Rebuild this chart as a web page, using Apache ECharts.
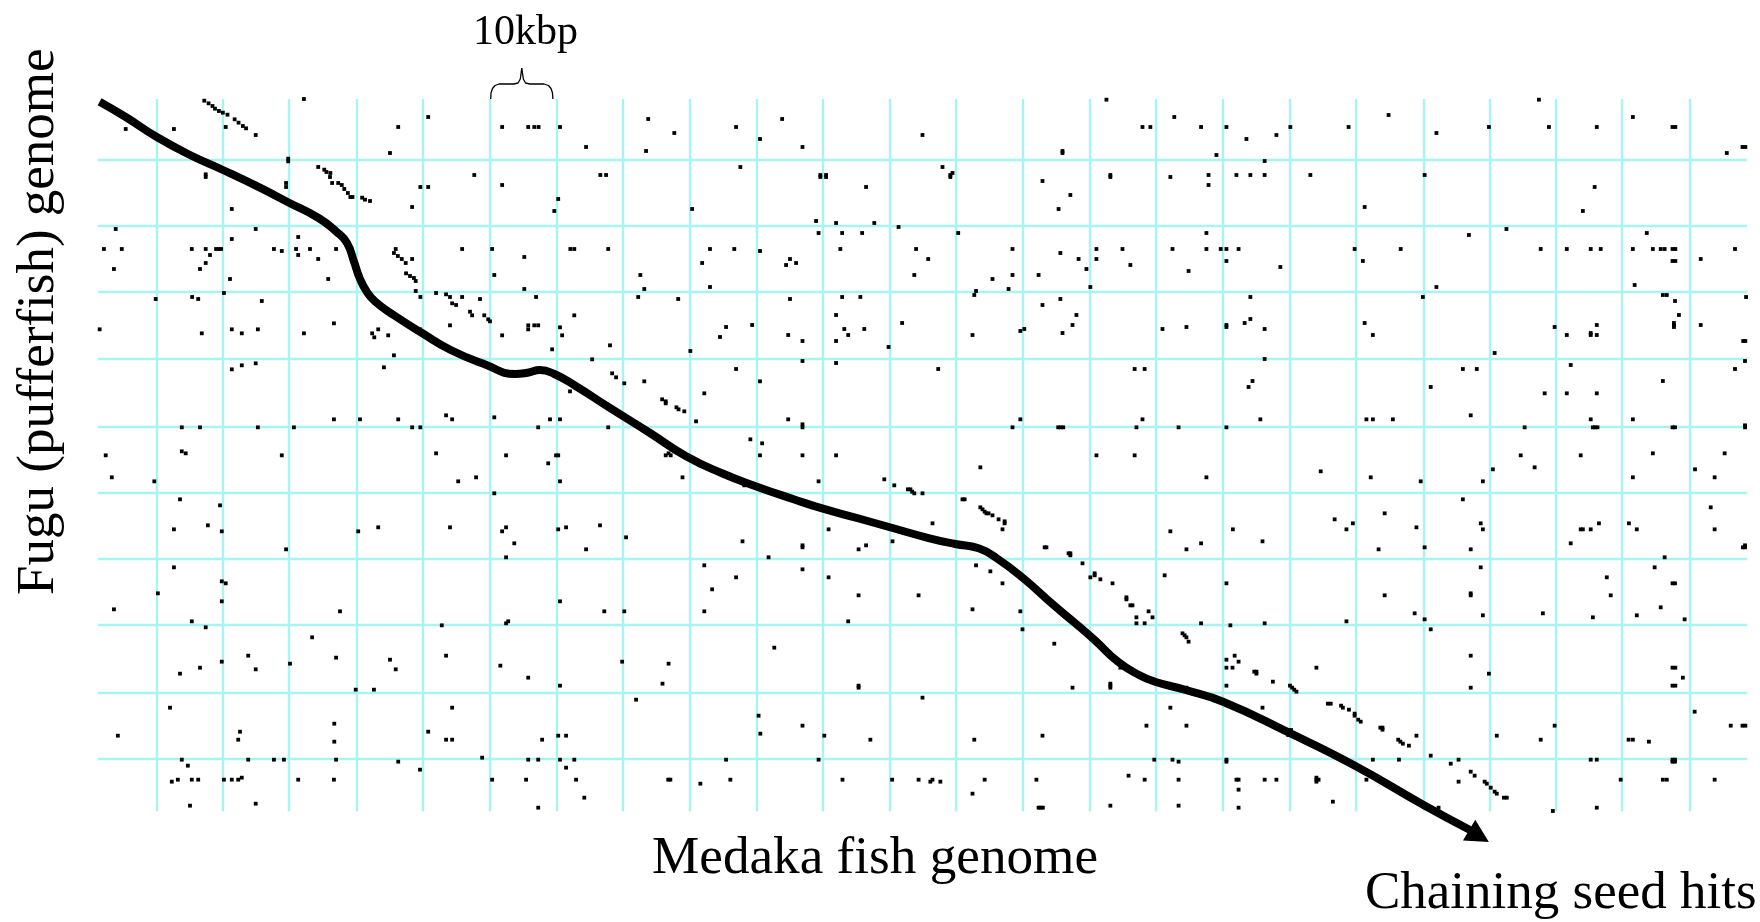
<!DOCTYPE html>
<html>
<head>
<meta charset="utf-8">
<style>html,body{margin:0;padding:0;background:#fff}#c{width:1760px;height:922px}</style>
<script src="https://cdn.jsdelivr.net/npm/echarts@6/dist/echarts.min.js"></script>
</head>
<body>
<div id="c"></div>
<script>
// Read-off scale: the chart is measured in picture units (66.6 units = 10 kbp).
const xGridLines = [156.8,222.9,288.9,356.8,422.9,489.3,556.8,623.2,689.3,757.1,823.2,889.3,955.4,1023.2,1089.3,1155.4,1223.2,1289.3,1355.4,1423.6,1489.6,1555.7,1621.8,1689.6];
const yGridLines = [160,226,292,358.5,426.5,492.5,558.5,624.5,692.5,758.5];
const plotX = [98,1747];
const plotY = [99,811.5];

// Seed hits, read region by region: each region has its own origin and read-off ratio.
const regionOrigins = [[90,0],[650,80],[1200,80],[90,300],[650,370],[1200,370],[90,570],[650,640],[1200,640]];
const readRatio = [2.8,3];
const hitsA = [[599,297],[100,387],[235,387],[380,381],[464,405],[840,459],[863,381],[947,351],[1154,381],[1227,381],[1244,381],[1256,381],[1316,381],[1389,441],[1563,357],[1557,453],
[320,302],[332,310],[343,318],[350,326],[361,333],[372,338],[385,344],[405,358],[416,368],[428,378],[437,385],
[555,476],[555,484],[324,523],[324,531],[549,549],[549,561],[397,627],[72,687],[464,687],[397,717],
[639,501],[656,509],[662,516],[673,519],[672,531],[678,549],[695,549],[705,555],[712,567],[722,579],[729,591],[735,591],[762,593],[770,599],[784,603],
[925,561],[947,561],[902,621],[1076,525],[1154,555],[1311,597],[1300,633],[1429,525],[1445,525],
[39,747],[89,747],[285,747],[324,747],[353,747],[360,747],[367,747],[515,747],[577,747],[616,747],[689,747],[1042,747],[1126,747],[1345,747],[1356,747],[1451,747],
[537,753],[336,765],[583,765],[639,777],[902,777],[324,789],[308,807],[67,807],[392,837],[667,837],[1216,771],[1132,825],[1541,825],[1552,867],[1216,867],[375,879],[969,879],[997,883],[1008,891],[286,891],[303,897],[184,897],[1042,891],[1092,897],[1249,891],[1535,891],[925,891],[912,873],
[856,747],[851,759],[862,768],[873,777],[884,789],[885,820],[896,828],[907,834],[912,843],[583,711]];
const hitsB = [[68,159],[241,141],[308,177],[370,117],[427,201],[763,165],[1155,213],[1155,219],[1278,59],[1379,141],[1401,141],[1468,111],
[253,261],[477,285],[477,291],[493,285],[493,291],[605,321],[819,261],[847,279],[841,285],[841,291],[1099,303],[1177,345],[1144,387],[1289,285],[1289,291],[1457,291],
[118,387],[465,423],[521,429],[628,429],[696,441],[472,459],[538,459],[594,459],[863,459],
[168,507],[236,507],[308,513],[533,507],[745,507],[1015,507],[1149,519],[1250,507],[1323,507],[1463,507],
[146,549],[392,537],[381,555],[409,549],[779,537],[1200,537],[1250,537],[1345,555],[1508,573],
[168,621],[740,585],[959,597],[1015,585],[1088,585],[1222,567],[1233,621],[1004,627],[913,633],[908,645],
[79,657],[392,657],[538,651],[589,651],[1149,657],[1099,675],[521,705],[1194,705],[706,729],
[213,741],[286,735],[196,771],[387,765],[427,783],[544,747],[600,747],[555,765],[521,783],[668,801],[903,765],[1037,753],[1048,747],[1183,735],[1155,759],[1435,747],[1502,741],
[113,813],[241,867],[427,843],[521,849],[807,867],[1357,867],[1385,867]];
const hitsC = [[3,141],[74,141],[130,177],[214,165],[253,141],[416,141],[528,105],[662,159],[809,141],[949,59],[977,141],[1111,141],[1212,111],[1323,141],[1331,141],[1475,219],[1519,201],[1527,201],
[46,225],[181,243],[24,285],[24,315],[102,285],[141,285],[181,285],[309,285],[629,285],[1105,321],[461,381],[1072,393],
[858,447],[18,459],[753,465],[1251,459],
[18,507],[58,507],[74,507],[108,507],[433,507],[562,507],[954,507],[1027,507],[1094,507],[1122,507],[1212,507],[1268,507],[1290,507],[1301,507],[1323,507],[1331,507],[1498,507],
[74,543],[456,543],[1323,543],[1331,543],[1402,537],[225,561],[662,621],[1217,615],
[141,651],[624,651],[1296,645],[1307,645],[1330,663],[1529,651],[1341,705],
[74,735],[74,741],[125,729],[141,717],[181,747],[461,729],[484,765],[993,741],[1027,765],[1094,759],[1094,765],[1111,735],[1111,765],[1327,729],[1327,735],[1327,741],[1402,735],[1521,783],[1527,783],
[181,837],[825,819],[736,867],[775,867],[1038,855],[1498,867],[1526,843]];
const hitsD = [[481,3],[27,88],[313,100],[397,88],[425,100],[470,88],[599,100],[683,70],[790,100],[796,112],[807,88],[835,106],[924,88],[1008,76],[1014,10],[1025,15],[1064,35],[1070,46],[1104,46],[1115,58],[1120,64],[1227,76],[1227,88],[1244,76],[1255,76],[1154,106],[1316,82],[1322,106],[1356,46],[1294,148],[1456,136],[1406,178],[851,166],[823,202],[397,208],[425,196],[464,190],[1462,220],[1473,232],[1496,250],[1552,244],[1344,274],
[683,358],[756,358],[863,358],[997,346],[1014,358],[1132,352],[1288,358],[1316,358],
[257,382],[308,382],[470,382],[571,382],[902,382],[925,382],[1255,382],[1451,382],
[44,466],[257,454],[268,460],[537,466],[969,460],[1165,466],[1305,466],[1311,466],[1283,490],
[61,532],[180,544],[1031,544],[1081,532],[1316,544],[1132,580],
[252,598],[364,616],[235,688],[330,676],[369,694],[751,694],[807,682],[1008,682],[1154,694],[1165,682],[1311,688],[1333,682],[1428,676],[1501,712],[1188,730],[549,748],[1389,748],[1165,772],[235,802]];
const hitsE = [[308,34],[152,70],[34,88],[44,94],[44,100],[74,112],[80,118],[96,124],[129,154],[387,148],[427,163],[427,172],[1037,148],[1015,172],[1143,172],[1150,172],[1157,172],[1379,148],[1362,172],[1480,172],
[281,208],[314,220],[44,256],[52,250],[58,256],[308,256],[427,256],[521,256],[1250,256],[1357,256],[925,292],[91,322],[220,322],[264,346],[472,334],
[656,328],[684,346],[722,358],[729,358],[734,365],[740,370],[763,370],
[875,388],[881,388],[925,412],[931,418],[937,425],[942,430],[948,430],[959,436],[976,448],[993,454],[993,460],[987,478],[791,460],[500,478],
[259,514],[427,526],[427,532],[679,514],[605,526],[584,538],[1105,532],[1110,532],[1172,550],[1177,550],[1177,556],[1457,484],[1502,538],
[332,562],[152,586],[427,598],[241,622],[500,622],[913,586],[953,604],[987,640],[1211,580],[1245,610],[1245,616],[1233,622],[1261,628],[1295,640],[1441,616],
[174,658],[584,676],[752,676],[1334,682],[1334,688],[1345,706],[1351,706],[152,724],[903,718],[1037,724],[1396,724],[1362,742],[1407,742],[555,754],[1362,760],[1385,760],[1043,778],[1491,790],[1497,796],[1502,802]];
const hitsF = [[147,33],[136,51],[169,148],[74,172],[646,51],[758,136],[965,70],[1027,70],[1111,70],[1296,33],[466,148],[484,148],[540,148],[1094,148],[1212,148],[909,172],[1100,172],[1106,172],[1113,172],[1323,172],[1330,172],[1526,166],[1526,172],
[898,256],[1066,256],[1268,250],[1469,250],[18,322],[338,304],[478,322],[618,334],[792,334],[820,298],[937,292],[1212,322],[1386,298],[1441,322],
[736,388],[1430,412],[377,448],[428,460],[410,478],[517,430],[606,472],[786,460],[792,478],[92,478],[1066,478],[1072,478],[1094,478],[1117,460],[1201,460],[1223,478],[1441,478],
[3,520],[175,514],[500,538],[629,532],[758,538],[1038,520],[1520,532],[1526,526],[1526,532],[1301,562],
[786,592],[1273,592],[74,640],[1139,622],[1323,640],[1330,640],
[517,676],[758,670],[758,676],[1150,676],[1290,712],[601,730],[792,736],[960,730],[1100,742],[1223,736],[629,748],[1357,748],[646,778],
[3,760],[85,766],[181,760],[410,754]];
const hitsG = [[369,34],[380,40],[190,70],[369,94],[67,118],[700,124],[1316,94],[1440,124],[1496,124],[285,154],[324,172],[985,166],[1165,160],[1171,154],
[622,202],[443,257],[689,263],[840,269],[997,257],[369,275],[308,293],[464,298],[560,281],[856,298],[1149,287],[1490,275],[252,311],[1227,323],[1316,347],[744,359],[795,359],[1529,389],
[224,413],[1014,413],[684,461],[420,485],[415,509],[947,485],[78,497],[684,515],[997,509],[1014,509],[1266,509],[1311,497],[1333,497],
[257,569],[443,569],[515,569],[543,569],[689,569],[863,575],[1098,563],[1227,569],[1255,569],[1316,569],[1356,569],[274,587],[924,599],[1333,593],
[229,635],[246,629],[285,629],[303,629],[375,629],[397,629],[415,629],[425,623],[583,629],[683,629],[1126,629],[1221,629],[1361,629],[1384,683],[280,707],[464,701],[1255,713]];
const hitsH = [[1132,11],[1508,5],[348,23],[52,71],[35,131],[584,137],[584,143],[1317,83],[1183,143],[1289,131],[1289,137],[1289,143],[1457,203],[763,173],[1502,143],
[304,227],[427,257],[309,281],[488,287],[617,299],[908,299],[1099,287],[1390,257],[1502,257],
[213,359],[472,359],[1412,359],[1463,359],[1480,365],[51,419],[57,419],[141,431],[225,419],[539,419],[678,419],[752,419],[785,425],[791,419],[813,425],[937,419],[1082,419],[1340,407],[1385,419],[1480,419],[903,461],[1088,503],[1094,503],[1100,503],[1289,497],[1480,497]];
const hitsI = [[97,47],[74,59],[108,65],[74,83],[91,83],[158,95],[152,95],[158,101],[74,137],[204,125],[326,83],[758,47],[809,101],[758,143],[1323,83],[1331,83],[1352,113],[1323,137],[1331,137],
[252,137],[258,143],[264,149],[270,155],[175,203],[358,191],[366,191],[395,197],[400,203],[417,209],[433,221],[433,227],[443,239],[450,245],[1385,215],[993,257],[505,263],[511,263],[511,269],[1486,257],[1519,257],[1527,257],
[606,287],[831,287],[555,299],[561,305],[568,311],[585,317],[954,299],[1200,299],[1212,299],[1257,305],[255,270],[247,285],[646,347],[74,359],[74,365],[484,359],[557,359],[724,359],[702,371],[1094,359],[1111,359],[1323,359],[1330,359],[1323,365],[1330,365],
[102,419],[108,419],[181,419],[214,419],[326,413],[326,419],[326,425],[332,419],[466,419],[758,395],[769,407],[724,425],[1178,419],[1296,419],[1307,419],[1441,419],[797,425],[803,431],[814,443],[825,455],[831,461],[851,473],[859,473],[108,449],[372,485],[108,503],[668,503],[988,513],[1111,503]];

const chainCurve = [[99.6,101.7],[125.7,117],[156.8,137],[190,155],[222.9,170],[257.9,186.7],[289,202.7],[318.6,218],[336.4,231.7],[347,243],[354,261.7],[359.6,278],[366.8,291.7],[375.7,302],[393.6,315],[422,333],[450.7,350],[486.4,365],[515,374],[527.5,372.7],[540,370],[554.3,374],[575.7,386],[607.9,406.7],[650,433],[685.7,456],[721.4,473],[757,486.7],[792.9,499],[823,508.7],[857,518],[889,527],[928.6,538],[955.4,544],[978.6,548.3],[996.4,558],[1023,578],[1053.6,605],[1075,623],[1094.6,640],[1117.9,661.7],[1139,675],[1155,681.7],[1185.7,690],[1223,701.7],[1289,732.7],[1353.6,765],[1423.6,805],[1470,830]];
const arrowHead = [[1479,836]];
const braceOutline = [[490.7,99],[491,93],[492.5,88.5],[495,85.5],[499,84],[514,84],[518,83],[520.3,79],[521.8,68],[523.3,79],[525.6,83],[530,84],[544,84],[548.5,85.5],[551,88.5],[552.5,93],[552.9,99]];

const hitGroups = [hitsA,hitsB,hitsC,hitsD,hitsE,hitsF,hitsG,hitsH,hitsI];
const seedHits = hitGroups.flatMap((g,i)=>g.map(([a,b])=>[regionOrigins[i][0]+a/readRatio[0], regionOrigins[i][1]+b/readRatio[1]]));
const gridSegments = [
  ...xGridLines.map(x=>({coords:[[x,plotY[0]],[x,plotY[1]]]})),
  ...yGridLines.map(y=>({coords:[[plotX[0],y],[plotX[1],y]]}))
];
const serif = '"Liberation Serif","Times New Roman",serif';
const chart = echarts.init(document.getElementById('c'),null,{renderer:'canvas'});
chart.setOption({
  animation:false,
  backgroundColor:'#fff',
  grid:{left:0,right:0,top:0,bottom:0,containLabel:false},
  xAxis:{type:'value',min:0,max:1760,show:false},
  yAxis:{type:'value',min:0,max:922,inverse:true,show:false},
  tooltip:{show:false},
  series:[
    {type:'lines',coordinateSystem:'cartesian2d',polyline:false,silent:true,z:1,
     lineStyle:{color:'#a8f4f2',width:2.4,opacity:1},data:gridSegments},
    {type:'scatter',data:seedHits,symbol:'rect',symbolSize:3.8,itemStyle:{color:'#000',opacity:1},silent:true,z:2},
    {type:'line',data:braceOutline,smooth:false,showSymbol:false,symbol:'none',lineStyle:{color:'#000',width:1.3},silent:true,z:3},
    {type:'line',data:chainCurve,smooth:0.5,showSymbol:false,symbol:'none',lineStyle:{color:'#000',width:8,cap:'butt'},silent:true,z:3},
    {type:'scatter',data:arrowHead,symbol:'triangle',symbolSize:[24,23],symbolRotate:-120.8,itemStyle:{color:'#000',opacity:1},silent:true,z:3}
  ],
  graphic:[
    {type:'text',z:5,style:{text:'10kbp',x:473,y:53.5,font:'42px '+serif,fill:'#000',textAlign:'left',textVerticalAlign:'bottom'}},
    {type:'text',z:5,style:{text:'Medaka fish genome',x:652,y:886,font:'53.2px '+serif,fill:'#000',textAlign:'left',textVerticalAlign:'bottom'}},
    {type:'text',z:5,style:{text:'Chaining seed hits',x:1365,y:921,font:'53px '+serif,fill:'#000',textAlign:'left',textVerticalAlign:'bottom'}},
    {type:'text',z:5,rotation:Math.PI/2,x:66,y:595,style:{text:'Fugu (pufferfish) genome',x:0,y:0,font:'53px '+serif,fill:'#000',textAlign:'left',textVerticalAlign:'bottom'}}
  ]
});
</script>
</body>
</html>
